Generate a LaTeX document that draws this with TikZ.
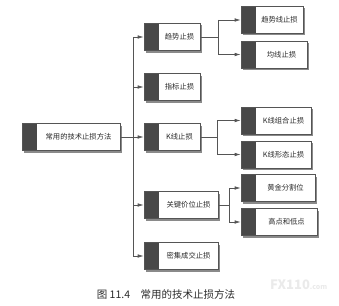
\documentclass[tikz,border=0pt]{standalone}
\usepackage{fontspec}
\setmainfont{Noto Sans CJK SC}
\usetikzlibrary{arrows.meta,shadows}
\definecolor{lineC}{HTML}{555555}
\definecolor{bandC}{HTML}{484848}
\definecolor{shadowC}{HTML}{8A8A8A}
\definecolor{textC}{HTML}{2A2A2A}
\definecolor{wmC}{HTML}{EAEAEA}
\begin{document}
\begin{tikzpicture}[x=1pt,y=-1pt,
  box/.style={draw=lineC, line width=0.7pt, fill=white, minimum height=27pt, inner sep=0pt,
    text=textC, font=\fontsize{7.3pt}{9pt}\selectfont,
    drop shadow={shadow xshift=2pt, shadow yshift=-2pt, fill=shadowC, opacity=1},
    path picture={\fill[bandC] (path picture bounding box.north west) rectangle ([xshift=15pt]path picture bounding box.south west);}},
  conn/.style={draw=lineC, line width=0.7pt},
  arr/.style={conn, -{Latex[length=6pt,width=3.6pt]}}]
\useasboundingbox (0,0) rectangle (339,305);
% nodes
\node[box, minimum width=98pt] (root) at (71,137) {\hspace*{15pt}常用的技术止损方法};
\node[box, minimum width=56pt] (m1) at (172,37) {\hspace*{15pt}趋势止损};
\node[box, minimum width=56pt] (m2) at (172,87) {\hspace*{15pt}指标止损};
\node[box, minimum width=56pt] (m3) at (172,137) {\hspace*{15pt}K线止损};
\node[box, minimum width=74pt] (m4) at (181,205) {\hspace*{15pt}关键价位止损};
\node[box, minimum width=74pt] (m5) at (181,256) {\hspace*{15pt}密集成交止损};
\node[box, minimum width=62pt] (r1) at (272,20) {\hspace*{15pt}趋势线止损};
\node[box, minimum width=66pt] (r2) at (274,54.5) {\hspace*{15pt}均线止损};
\node[box, minimum width=70pt] (r3) at (276,120.5) {\hspace*{15pt}K线组合止损};
\node[box, minimum width=70pt] (r4) at (276,154.5) {\hspace*{15pt}K线形态止损};
\node[box, minimum width=74pt] (r5) at (278,188) {\hspace*{15pt}黄金分割位};
\node[box, minimum width=76pt] (r6) at (279,222) {\hspace*{15pt}高点和低点};
% spine coordinates
\coordinate (sp) at (133,0);
\coordinate (b1) at (218,0);
\coordinate (b3) at (217,0);
\coordinate (b4) at (229,0);
% main spine
\draw[conn] (m1.west -| sp) -- (m5.west -| sp);
\draw[arr] (root.east) -- (m3.west);
\foreach \n in {m1,m2,m4,m5}{\draw[arr] (\n.west -| sp) -- (\n.west);}
% branch 1
\draw[conn] (m1.east) -- (m1.east -| b1);
\draw[conn] (r1.west -| b1) -- (r2.west -| b1);
\draw[arr] (r1.west -| b1) -- (r1.west);
\draw[arr] (r2.west -| b1) -- (r2.west);
% branch 3
\draw[conn] (m3.east) -- (m3.east -| b3);
\draw[conn] (r3.west -| b3) -- (r4.west -| b3);
\draw[arr] (r3.west -| b3) -- (r3.west);
\draw[arr] (r4.west -| b3) -- (r4.west);
% branch 4
\draw[conn] (m4.east) -- (m4.east -| b4);
\draw[conn] (r5.west -| b4) -- (r6.west -| b4);
\draw[arr] (r5.west -| b4) -- (r5.west);
\draw[arr] (r6.west -| b4) -- (r6.west);
% caption
\node[text=textC, font=\fontsize{10.5pt}{12pt}\selectfont] (cap) at (166,294) {图 11.4\quad 常用的技术止损方法};
% watermark
\node[text=wmC, font=\fontsize{13pt}{14pt}\bfseries, anchor=west, inner sep=0pt] (wm) at (270,285) {FX110\fontsize{7pt}{8pt}\selectfont.com};
\end{tikzpicture}
\end{document}
